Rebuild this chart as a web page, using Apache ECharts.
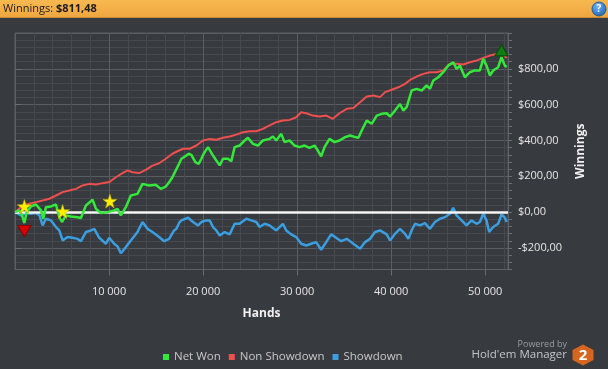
<!DOCTYPE html>
<html><head><meta charset="utf-8">
<script src="https://cdn.jsdelivr.net/npm/echarts@6/dist/echarts.min.js"></script>
<style>html,body{margin:0;padding:0;background:#373a3e;overflow:hidden}#c{width:608px;height:369px}</style>
</head><body><div id="c"></div>
<script>
// ---- data ----
const netWonHands = [0,464,747,995,1242,1702,2233,2764,3012,3295,3826,4357,4711,4994,5418,5949,6657,7011,7542,8250,8604,9135,9843,10550,10904,11258,11789,12320,13028,13559,14266,14974,15505,16036,16390,16743,17097,17451,17697,18228,18470,18758,19183,19533,19820,20064,20528,21059,21413,21767,22121,22651,23005,23359,23890,24421,24775,25306,25837,26367,27075,27429,27783,28314,28668,29199,29730,30260,30791,31322,31853,32207,32561,32915,33446,33977,34507,35106,35637,36168,36521,36875,37406,37937,38468,38999,39530,39884,40414,40945,41299,41653,42184,42715,43245,43776,44130,44485,45015,45546,46077,46607,46961,47315,47846,48377,48908,49438,49792,50146,50500,50854,51385,51739,52093,52300];
const netWonValues = [0,10,-18,-61,0,32,43,10,-37,28,32,43,-28,-55,-18,-24,-28,-33,37,69,19,-5,0,10,19,-18,28,93,102,158,149,153,130,143,167,195,233,270,298,316,326,320,279,270,298,326,363,316,288,261,298,298,285,363,372,400,415,381,372,400,409,422,400,437,391,400,372,363,372,359,372,344,311,363,409,391,400,419,428,419,415,456,512,493,539,549,552,534,567,604,567,586,679,688,679,707,688,735,753,781,818,837,800,818,753,781,791,791,856,818,763,791,809,865,818,811];

const nonShowdownHands = [0,110,818,1526,2233,2941,3649,4357,5065,5772,6480,7188,7896,8604,9311,10019,10727,11435,11966,12497,13204,13912,14620,15328,16036,16743,17274,17874,18582,19289,19997,20705,21413,22121,22829,23536,24244,24952,25660,26367,27075,27783,28491,29199,29907,30437,30968,31676,32384,33092,33800,34507,35283,35991,36698,37406,38114,38822,39353,40061,40768,41476,42007,42715,43423,44130,44838,45546,46253,46961,47669,48377,49084,49792,50500,51208,51916,52300];
const nonShowdownValues = [0,10,37,47,56,65,75,93,112,121,130,149,158,155,162,168,195,218,233,223,218,236,260,273,298,326,340,354,354,372,400,409,404,415,422,433,446,452,452,465,484,502,512,515,530,558,552,539,534,539,521,552,577,582,614,645,651,642,670,683,697,716,738,757,772,781,781,791,828,828,824,837,846,861,874,883,880,861];

const showdownHands = [0,110,641,1172,1702,2233,2600,2941,3295,3826,4357,4711,5065,5595,6126,6657,7011,7542,8073,8427,8958,9665,10019,10550,10904,11258,11789,12320,13028,13559,14089,14620,15328,15859,16390,16920,17166,17451,17697,18405,18935,19466,19820,20351,20705,21059,21413,21767,22298,22829,23359,23890,24598,25129,25660,26013,26544,27075,27783,28491,28845,29376,29907,30437,30968,31499,32030,32561,33092,33623,34153,34684,35283,35991,36698,37229,37760,38291,38822,39530,39884,40414,40945,41476,41830,42184,42538,43068,43599,44130,44661,45192,45723,46253,46607,46961,47492,48023,48554,49084,49438,49792,50146,50429,50854,51385,51739,52093,52300];
const showdownValues = [0,-5,-18,-5,-9,-5,-18,-74,-37,-46,-83,-102,-158,-139,-143,-149,-162,-111,-102,-93,-143,-176,-143,-176,-191,-229,-195,-158,-111,-55,-93,-111,-139,-162,-149,-102,-93,-60,-46,-31,-55,-74,-55,-46,-46,-83,-102,-130,-111,-124,-65,-65,-37,-46,-55,-83,-65,-74,-102,-65,-102,-124,-139,-176,-186,-176,-167,-210,-167,-124,-143,-162,-149,-176,-204,-167,-149,-111,-102,-124,-158,-121,-93,-121,-149,-102,-65,-74,-61,-93,-55,-37,-28,-9,24,-18,-46,-74,-46,-65,-55,-9,-46,-111,-83,-65,-13,-31,-55];

const starHands = [995,5065,10090];
const starValues = [32,4,62];

const seriesNames = ['Net Won','Non Showdown','Showdown'];
const xTickValues = [10000,20000,30000,40000,50000];
const xTickLabels = ['10 000','20 000','30 000','40 000','50 000'];
const yTickValues = [-200,0,200,400,600,800];
const yTickLabels = ['-$200,00','$0,00','$200,00','$400,00','$600,00','$800,00'];
const headerLabel = 'Winnings: ';
const headerValue = '$811,48';

// ---- chart ----
const FONT = 'Open Sans';
const pairs = (xs, ys) => xs.map((x, i) => [x, ys[i]]);
const MAJ = '#5a5d61', MIN = '#46494d';
const chart = echarts.init(document.getElementById('c'), null, {renderer: 'canvas'});
const starPath = 'path://M50,0 L61.2,34.5 L97.6,34.5 L68.2,55.9 L79.4,90.5 L50,69.1 L20.6,90.5 L31.8,55.9 L2.4,34.5 L38.8,34.5 Z';

chart.setOption({
  animation: false,
  backgroundColor: '#373a3e',
  textStyle: {fontFamily: FONT},
  grid: [
    {left: 15, right: 100, top: 33, height: 236.5, show: true, borderColor: '#5d6064', borderWidth: 1, backgroundColor: 'transparent'},
    {left: 15, right: 100, top: 33, height: 215.0, show: false}
  ],
  xAxis: [
    {gridIndex: 0, type: 'value', min: 0, max: 52430, interval: 2000,
     axisLine: {show: false}, axisTick: {show: false}, axisLabel: {show: false},
     splitLine: {show: true, lineStyle: {color: [MAJ, MIN, MIN, MIN, MIN], width: 1}}},
    {gridIndex: 0, type: 'value', min: 0, max: 52430, interval: 10000, position: 'bottom',
     axisLine: {show: true, onZero: false, lineStyle: {color: '#5d6064'}},
     axisTick: {show: true, length: 6, lineStyle: {color: '#6a6d70'}},
     axisLabel: {show: true, color: '#e6e6e6', fontSize: 11, fontFamily: FONT, margin: 17,
       showMinLabel: false, showMaxLabel: false,
       formatter: v => { const i = xTickValues.indexOf(v); return i >= 0 ? xTickLabels[i] : ''; }},
     splitLine: {show: false},
     name: 'Hands', nameLocation: 'middle', nameGap: 38,
     nameTextStyle: {color: '#f0f0f0', fontWeight: 'bold', fontSize: 12, fontFamily: FONT}},
    {gridIndex: 1, type: 'value', min: 0, max: 52430, show: false}
  ],
  yAxis: [
    {gridIndex: 0, type: 'value', position: 'right', min: -320, max: 1000, interval: 40,
     axisLine: {show: true, onZero: false, lineStyle: {color: '#5d6064'}},
     axisTick: {show: true, length: 4, lineStyle: {color: '#6a6d70'}},
     axisLabel: {show: false},
     splitLine: {show: true, lineStyle: {color: [MIN, MIN, MIN, MAJ, MIN], width: 1}},
     name: 'Winnings', nameLocation: 'middle', nameGap: 67, nameRotate: 90,
     nameTextStyle: {color: '#f0f0f0', fontWeight: 'bold', fontSize: 12, fontFamily: FONT}},
    {gridIndex: 1, type: 'value', position: 'right', min: -200, max: 1000, interval: 200,
     axisLine: {show: false},
     axisTick: {show: true, length: 7, lineStyle: {color: '#6a6d70'}},
     axisLabel: {show: true, color: '#e6e6e6', fontSize: 11, fontFamily: FONT, margin: 10, showMaxLabel: false,
       formatter: v => { const i = yTickValues.indexOf(v); return i >= 0 ? yTickLabels[i] : ''; }},
     splitLine: {show: false}}
  ],
  legend: {
    data: seriesNames, left: 158, top: 346, icon: 'rect', itemWidth: 6, itemHeight: 6, itemGap: 8,
    textStyle: {color: '#c8c8c8', fontSize: 11.5, fontFamily: FONT}, selectedMode: false
  },
  series: [
    {name: 'Showdown', type: 'line', xAxisIndex: 1, yAxisIndex: 0, data: pairs(showdownHands, showdownValues),
     showSymbol: false, symbol: 'none', color: '#3a9ee0', lineStyle: {width: 2.5, color: '#3a9ee0'}, z: 3,
     markLine: {silent: true, symbol: 'none', label: {show: false},
       lineStyle: {color: '#f4f4f4', width: 2.5, type: 'solid'}, data: [{yAxis: 0}]}},
    {name: 'Non Showdown', type: 'line', xAxisIndex: 1, yAxisIndex: 0, data: pairs(nonShowdownHands, nonShowdownValues),
     showSymbol: false, symbol: 'none', color: '#ee4f4f', lineStyle: {width: 2, color: '#ee4f4f'}, z: 4},
    {name: 'Net Won', type: 'line', xAxisIndex: 1, yAxisIndex: 0, data: pairs(netWonHands, netWonValues),
     showSymbol: false, symbol: 'none', color: '#33e83a', lineStyle: {width: 2.5, color: '#33e83a'}, z: 5,
     markPoint: {silent: true, label: {show: false}, data: [
       {type: 'min', symbol: 'triangle', symbolRotate: 180, symbolSize: [13, 11], symbolOffset: [0, 8],
        itemStyle: {color: '#d80000', borderColor: '#8a0000', borderWidth: 1}},
       {type: 'max', symbol: 'triangle', symbolSize: [13, 11], symbolOffset: [0, -7],
        itemStyle: {color: '#0e7d12', borderColor: '#064d08', borderWidth: 1}}
     ]}},
    {name: 'Notes', type: 'scatter', xAxisIndex: 1, yAxisIndex: 0, data: pairs(starHands, starValues),
     symbol: starPath, symbolSize: 14, itemStyle: {color: '#ffee00', opacity: 1, borderColor: '#c9b800', borderWidth: 0.5}, z: 6, silent: true}
  ],
  graphic: [
    {type: 'rect', shape: {x: 0, y: 0, width: 608, height: 18}, silent: true,
     style: {fill: new echarts.graphic.LinearGradient(0, 0, 0, 1, [{offset: 0, color: '#f8b850'}, {offset: 1, color: '#eea63f'}])}},
    {type: 'rect', shape: {x: 0, y: 17, width: 608, height: 1}, silent: true, style: {fill: '#c88a33'}},
    {type: 'text', x: 3, y: 9, silent: true,
     style: {text: '{a|' + headerLabel + '}{b|' + headerValue + '}', verticalAlign: 'middle',
       rich: {a: {fill: '#1c1c1c', fontSize: 11, fontFamily: FONT},
              b: {fill: '#1c1c1c', fontSize: 11, fontFamily: FONT, fontWeight: 'bold'}}}},
    {type: 'circle', shape: {cx: 599, cy: 9, r: 7}, silent: true,
     style: {fill: new echarts.graphic.RadialGradient(0.4, 0.3, 0.8, [{offset: 0, color: '#6fb3f0'}, {offset: 1, color: '#1a5eb3'}]), stroke: '#174f95', lineWidth: 0.8}},
    {type: 'text', x: 599, y: 9.5, silent: true,
     style: {text: '?', fill: '#ffffff', fontSize: 10, fontWeight: 'bold', fontFamily: FONT, align: 'center', verticalAlign: 'middle'}},
    {type: 'text', x: 567, y: 344, silent: true,
     style: {text: 'Powered by', fill: '#9a9c9e', fontSize: 9, fontFamily: FONT, align: 'right', verticalAlign: 'middle'}},
    {type: 'text', x: 567, y: 355, silent: true,
     style: {text: "Hold'em Manager", fill: '#c4c6c8', fontSize: 11.5, fontFamily: FONT, align: 'right', verticalAlign: 'middle'}},
    {type: 'polygon', silent: true,
     shape: {points: [[583, 344.5], [593.5, 350], [593.5, 360], [583, 365.5], [572.5, 360], [572.5, 350]]},
     style: {fill: '#d5651f'}},
    {type: 'text', x: 583, y: 355.5, silent: true,
     style: {text: '2', fill: '#ffffff', fontSize: 15, fontWeight: 'bold', fontFamily: FONT, align: 'center', verticalAlign: 'middle'}}
  ]
});
</script>
</body></html>
